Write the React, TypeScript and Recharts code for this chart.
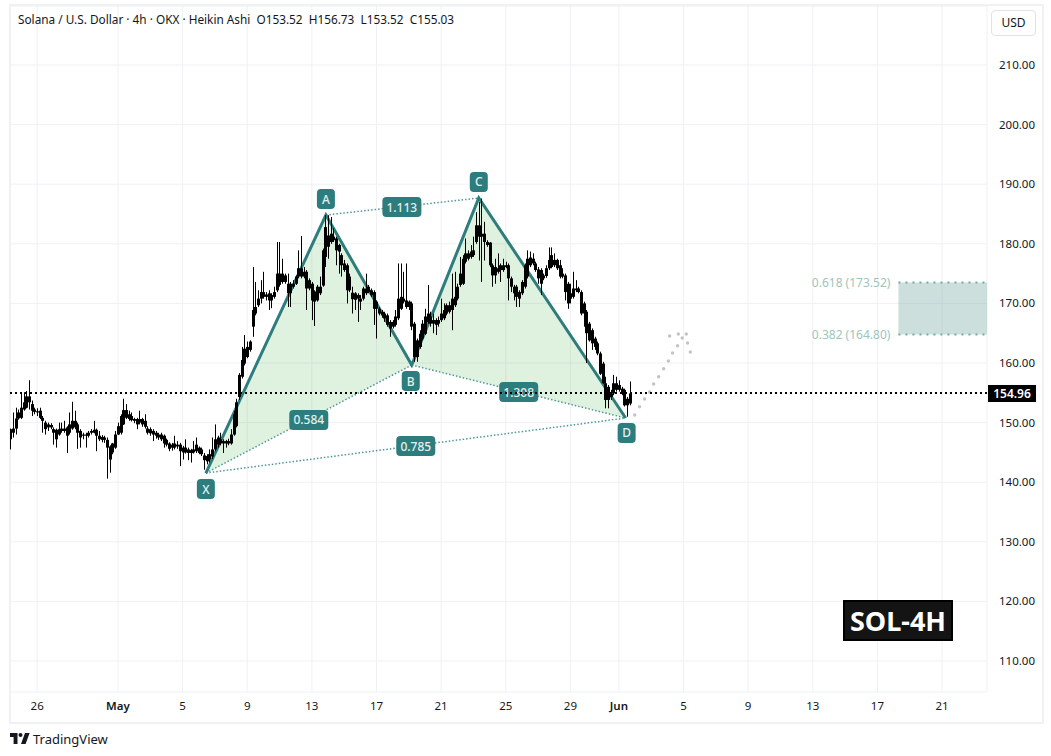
import React from "react";
import {
  Area,
  Bar,
  CartesianGrid,
  ComposedChart,
  Line,
  ReferenceArea,
  ReferenceDot,
  ReferenceLine,
  Scatter,
  XAxis,
  YAxis,
} from "recharts";

const FONT = '"Noto Sans", "Open Sans", sans-serif';
const TEAL = "#2e7d7e";
const GRID = "#eff1f5";

// 4h heikin ashi candles
const firstDay = -6.64;
const opens = [
  147.2, 148.3, 149.0, 150.7, 150.8, 152.2, 152.5, 154.4, 153.1, 152.2,
  151.9, 152.0, 150.8, 150.0, 149.7, 149.6, 148.9, 148.8, 148.0, 149.0, 148.6,
  149.2, 148.3, 149.0, 150.3, 149.7, 148.6, 148.0, 147.8, 147.8, 148.3,
  148.3, 148.8, 147.8, 147.6, 147.1, 147.1, 146.0, 145.0, 145.8, 148.0,
  148.3, 149.7, 152.1, 150.6, 151.1, 150.6, 150.6, 150.0, 150.6, 150.3,
  149.0, 148.9, 148.6, 148.3, 148.0, 148.0, 147.8, 147.1, 146.5, 145.8,
  145.8, 146.3, 146.3, 145.8, 145.0, 145.5, 145.4, 145.0, 145.2, 145.8,
  145.5, 144.5, 144.4, 143.8, 144.3, 145.5, 146.3, 147.2, 146.9, 146.5,
  146.9, 146.5, 148.0, 149.4, 154.3, 157.7, 159.9, 161.0, 162.2, 166.1,
  168.3, 169.7, 170.8, 171.9, 171.5, 171.7, 170.5, 171.1, 172.2, 175.0, 173.6,
  174.7, 173.3, 171.7, 172.8, 173.3, 174.5, 175.9, 175.3, 175.3, 172.5,
  173.3, 170.3, 170.5, 171.7, 173.0, 177.8, 179.5, 181.7, 180.6, 180.9,
  179.8, 178.1, 176.7, 176.4, 172.2, 171.8, 170.6, 171.4, 170.8, 170.8,
  172.5, 171.9, 172.2, 171.9, 170.3, 169.1, 168.6, 168.3, 168.0, 166.9,
  166.1, 166.4, 167.5, 169.1, 170.8, 170.5, 169.4, 170.0, 166.6, 161.0,
  162.7, 164.1, 164.9, 166.9, 167.8, 167.2, 166.4, 167.2, 167.2, 167.5,
  168.3, 169.7, 168.9, 169.7, 170.8, 173.1, 173.3, 177.0, 177.5, 177.8,
  178.1, 180.3, 181.2, 181.7, 181.7, 180.3, 180.2, 176.4, 174.7, 175.3,
  175.6, 176.4, 176.1, 176.4, 174.2, 172.8, 171.1, 171.9, 171.7, 172.8,
  174.5, 176.4, 177.5, 176.7, 175.7, 173.3, 174.7, 174.6, 175.9, 176.1,
  177.3, 177.3, 176.4, 175.0, 174.7, 173.3, 170.8, 171.1, 172.2, 172.5,
  171.9, 170.0, 168.6, 166.6, 163.3, 164.1, 163.3, 161.6, 159.9, 156.6,
  156.0, 154.9, 154.9, 156.6, 155.5, 155.7, 155.5, 154.0, 153.2,
];
const closes = [
  148.9, 149.0, 150.7, 151.7, 152.5, 153.4, 154.4, 153.4, 152.0, 151.8,
  151.7, 150.8, 150.3, 148.9, 149.2, 149.2, 148.3, 147.2, 148.9, 148.6, 149.0,
  147.8, 149.7, 150.3, 149.2, 148.3, 147.5, 147.8, 148.0, 148.3, 148.6,
  148.8, 147.8, 147.2, 147.1, 147.5, 145.8, 143.8, 146.5, 148.0, 149.4,
  151.1, 152.1, 150.8, 151.4, 150.4, 150.3, 149.7, 150.6, 149.7, 149.3,
  148.3, 148.2, 148.0, 147.8, 147.5, 147.2, 146.5, 146.3, 145.6, 146.3,
  146.5, 146.0, 145.2, 145.0, 145.8, 144.9, 144.9, 145.5, 146.3, 144.9,
  144.7, 143.7, 143.5, 144.7, 145.5, 147.2, 147.5, 146.5, 146.5, 146.9,
  146.5, 148.0, 151.4, 153.4, 158.0, 160.5, 162.4, 162.7, 163.6, 168.9,
  169.4, 170.8, 171.9, 171.1, 171.1, 170.5, 171.4, 171.9, 175.0, 173.1, 175.0,
  173.6, 171.7, 173.3, 173.3, 174.5, 175.9, 174.5, 174.5, 172.5, 173.9,
  170.5, 172.0, 172.8, 172.8, 178.9, 182.8, 181.4, 180.3, 181.2, 178.9,
  178.7, 176.4, 175.6, 172.2, 174.5, 170.7, 171.7, 170.8, 170.3, 172.5,
  171.7, 172.8, 171.4, 169.1, 169.1, 168.3, 168.0, 167.5, 166.4, 165.8,
  166.9, 167.8, 170.8, 171.1, 170.3, 169.4, 170.3, 166.1, 161.0, 163.8,
  164.9, 166.6, 167.8, 168.3, 166.6, 166.6, 167.2, 166.6, 168.3, 168.9,
  169.7, 168.6, 170.8, 171.1, 172.8, 175.0, 177.5, 178.4, 178.4, 178.7,
  178.9, 183.1, 183.1, 181.2, 180.3, 179.8, 176.4, 174.7, 176.1, 175.9,
  176.4, 175.6, 176.4, 174.2, 172.8, 171.7, 172.8, 170.8, 173.6, 176.4,
  177.5, 177.7, 176.7, 175.6, 174.2, 175.6, 174.2, 175.9, 177.3, 178.1,
  176.4, 175.9, 174.5, 174.5, 171.9, 170.0, 171.7, 172.5, 172.5, 171.9,
  168.3, 168.3, 165.0, 163.8, 165.5, 162.7, 161.6, 158.2, 156.6, 153.8,
  153.8, 154.3, 156.6, 155.5, 156.3, 154.9, 152.9, 152.9, 154.9,
];
const highs = [
  149.0, 151.7, 152.5, 152.2, 154.8, 155.1, 155.3, 157.1, 153.7, 152.5,
  152.4, 152.5, 151.1, 150.3, 150.0, 149.9, 149.2, 149.0, 150.0, 150.0, 150.3,
  149.4, 151.7, 153.5, 152.0, 150.0, 148.9, 148.3, 148.3, 148.6, 148.9,
  150.3, 149.0, 148.6, 147.9, 147.8, 147.5, 146.2, 146.6, 148.6, 150.0,
  151.4, 154.0, 153.1, 152.0, 151.7, 150.8, 150.8, 152.0, 150.8, 151.4,
  149.4, 149.2, 148.9, 148.6, 148.3, 148.3, 148.0, 147.3, 146.7, 146.6,
  147.8, 146.9, 146.6, 146.1, 147.2, 145.8, 145.6, 146.9, 147.5, 146.0,
  145.8, 144.9, 144.7, 145.5, 147.5, 149.7, 147.8, 148.3, 147.2, 147.1,
  147.3, 148.9, 152.0, 154.0, 158.3, 162.7, 164.7, 163.6, 163.8, 176.1,
  173.6, 172.2, 173.9, 175.3, 171.9, 172.2, 171.7, 172.8, 180.3, 180.3, 177.5,
  175.0, 175.0, 173.6, 173.9, 174.7, 178.9, 181.3, 176.1, 175.6, 174.2,
  173.6, 172.2, 173.1, 174.5, 179.2, 184.8, 184.8, 184.5, 182.6, 181.2,
  180.0, 178.4, 177.3, 176.7, 175.0, 172.8, 171.9, 171.7, 171.4, 172.8,
  175.0, 173.1, 172.5, 172.2, 170.5, 169.4, 168.9, 168.6, 168.3, 167.2,
  167.2, 168.9, 176.7, 176.7, 175.3, 176.7, 170.5, 170.3, 166.9, 164.1,
  165.5, 167.2, 169.1, 173.1, 168.6, 168.3, 167.5, 167.8, 170.8, 170.0,
  170.0, 170.3, 175.0, 175.3, 173.3, 177.8, 178.1, 180.9, 178.9, 179.8,
  181.2, 185.3, 187.0, 187.6, 183.7, 180.6, 180.3, 176.7, 177.5, 178.4,
  176.7, 177.5, 177.0, 176.7, 174.5, 173.1, 173.1, 172.2, 173.9, 176.7,
  178.9, 178.7, 178.4, 177.0, 176.1, 175.9, 175.0, 176.4, 179.4, 179.4,
  178.4, 177.5, 177.3, 175.9, 175.0, 173.6, 173.3, 175.3, 173.9, 172.8,
  172.2, 170.3, 168.9, 166.9, 165.8, 164.4, 163.6, 161.9, 160.2, 157.7,
  156.3, 155.5, 158.0, 157.7, 157.1, 156.0, 155.7, 154.3, 156.9,
];
const lows = [
  145.5, 147.5, 148.0, 150.5, 150.6, 152.0, 152.4, 152.2, 151.1, 151.4,
  151.1, 150.6, 148.3, 148.0, 148.6, 148.9, 146.3, 145.8, 147.8, 148.3, 148.3,
  144.9, 148.0, 148.8, 148.9, 145.6, 145.8, 147.2, 145.8, 147.5, 148.0,
  148.2, 145.2, 146.9, 146.7, 146.6, 140.6, 141.6, 144.7, 145.6, 147.9,
  148.0, 149.6, 150.6, 150.3, 150.2, 149.9, 148.9, 149.7, 149.3, 149.0,
  148.0, 147.8, 146.9, 147.3, 147.1, 146.9, 145.8, 146.0, 145.2, 145.3,
  145.5, 145.6, 142.7, 143.8, 144.8, 143.7, 143.3, 144.8, 144.9, 144.7,
  144.4, 142.1, 143.0, 143.3, 143.9, 145.2, 145.8, 146.2, 144.9, 145.8,
  146.2, 146.3, 147.8, 149.2, 153.8, 157.4, 159.6, 160.8, 161.9, 164.4,
  168.0, 169.4, 170.0, 170.8, 170.5, 168.9, 169.2, 170.8, 171.9, 172.8, 173.3,
  173.3, 169.4, 169.4, 172.5, 173.1, 174.2, 174.2, 174.2, 168.9, 172.2,
  167.2, 166.2, 170.3, 171.4, 172.8, 176.1, 177.5, 180.0, 180.3, 176.4,
  175.0, 174.5, 175.3, 170.0, 171.9, 168.3, 168.9, 166.9, 168.9, 170.5,
  171.4, 171.7, 171.1, 166.4, 164.1, 168.0, 167.6, 166.9, 166.1, 164.4,
  165.8, 166.1, 167.2, 168.9, 170.0, 169.1, 168.9, 165.5, 160.2, 160.2,
  162.4, 163.8, 164.7, 166.6, 166.1, 165.0, 164.7, 166.1, 166.9, 167.2,
  168.0, 168.3, 165.5, 169.4, 170.5, 172.8, 173.1, 176.7, 177.2, 177.5,
  177.8, 180.0, 177.2, 173.6, 177.2, 179.5, 176.1, 172.8, 173.3, 175.0,
  173.6, 175.3, 175.9, 170.5, 171.9, 170.5, 169.4, 169.4, 171.4, 172.5,
  174.2, 176.1, 176.4, 175.3, 173.3, 171.4, 173.9, 174.3, 175.6, 175.9,
  176.1, 175.6, 174.2, 174.2, 170.5, 169.1, 170.0, 170.8, 171.9, 171.7,
  168.0, 166.1, 160.0, 163.6, 162.2, 162.2, 161.3, 158.0, 156.5, 152.4,
  152.4, 153.8, 154.6, 155.2, 155.2, 154.6, 152.7, 151.0, 152.9,
];

const candles = closes.map((c, i) => ({
  day: firstDay + i / 6,
  open: opens[i],
  close: c,
  high: highs[i],
  low: lows[i],
  wick: [lows[i], highs[i]],
}));

// pattern pivots (days from May 1, price)
const pX = { day: 5.44, y: 141.54 };
const pA = { day: 12.87, y: 184.83 };
const pB = { day: 18.18, y: 159.66 };
const pC = { day: 22.33, y: 187.68 };
const pD = { day: 31.42, y: 150.77 };

const chordAt = (a: any, b: any, day: number) =>
  a.y + ((b.y - a.y) * (day - a.day)) / (b.day - a.day);

const wing = (a: any, b: any, c: any) => [
  { day: a.day, band: [a.y, a.y] },
  { day: b.day, band: [chordAt(a, c, b.day), b.y] },
  { day: c.day, band: [c.y, c.y] },
];

const forecastDays = [
  31.98, 32.28, 32.59, 32.9, 33.15, 33.46, 33.77, 34.06, 34.32, 34.63, 34.92,
  35.17, 34.68, 34.14, 35.25, 35.42,
];
const forecastPrices = [
  151.28, 152.67, 153.96, 155.13, 156.48, 157.7, 159.04, 160.34, 161.68, 162.9,
  164.19, 164.87, 164.87, 164.53, 163.36, 161.85,
];
const forecast = forecastDays.map((day, i) => ({ day, y: forecastPrices[i] }));

const tag = ["X", "A", "B", "C", "D", "1.113", "0.584", "1.308", "0.785"];
const tagDays = [5.44, 12.87, 18.12, 22.33, 31.48, 17.57, 11.81, 24.8, 18.43];
const tagPrices = [138.86, 187.5, 156.98, 190.37, 148.26, 186.17, 150.44, 155.13, 146.07];

const priceTicks = [110, 120, 130, 140, 150, 160, 170, 180, 190, 200, 210];
const dayTicks = [-5, 0, 4, 8, 12, 16, 20, 24, 28, 31, 35, 39, 43, 47, 51];
const dayLabels = ["26", "May", "5", "9", "13", "17", "21", "25", "29", "Jun", "5", "9", "13", "17", "21"];

const lastPrice = 154.96;
const fib618 = 173.52;
const fib382 = 164.8;
const zoneStart = 48.3;
const zoneEnd = 53.78;

// one candle: the bar spans low..high, the body is placed from the same scale
function Candle({ x, y, width, height, payload }: any) {
  const perUnit = height / (payload.high - payload.low);
  const top = y + (payload.high - Math.max(payload.open, payload.close)) * perUnit;
  const bodyH = Math.max(Math.abs(payload.open - payload.close) * perUnit, 1);
  const left = Math.floor(x + width / 2);
  return (
    <g>
      <rect x={left} y={y} width={1} height={height} fill="#000" />
      <rect x={left - 1} y={top} width={3} height={bodyH} fill="#000" />
    </g>
  );
}

function TagShape({ cx, cy, text }: any) {
  const w = text.length > 1 ? 39 : 18;
  return (
    <g>
      <rect x={cx - w / 2} y={cy - 10} width={w} height={20} rx={4} fill={TEAL} />
      <text x={cx} y={cy + 4.5} textAnchor="middle" fontSize={12} fontWeight={500} fill="#e3f1ef" fontFamily={FONT}>
        {text}
      </text>
    </g>
  );
}

function FibText({ cx, cy, text }: any) {
  return (
    <text x={cx} y={cy + 4.5} textAnchor="end" fontSize={12} fill="#9cc6bb" fontFamily={FONT}>
      {text}
    </text>
  );
}

function DayTick({ x, y, payload }: any) {
  const label = dayLabels[dayTicks.indexOf(payload.value)];
  const strong = label === "May" || label === "Jun";
  return (
    <text x={x} y={y + 10} textAnchor="middle" fontSize={11.5} fontWeight={strong ? 600 : 400} fill="#131722" fontFamily={FONT}>
      {label}
    </text>
  );
}

const dotted = { stroke: "#4f9797", strokeWidth: 1.5, strokeDasharray: "1.5 2", dot: false, isAnimationActive: false, zIndex: 240 };

export default function App() {
  return (
    <div style={{ position: "absolute", left: 0, top: 0, width: 1051, height: 756, background: "#fff", fontFamily: FONT, overflow: "hidden" }}>
      <div style={{ position: "absolute", left: 9, top: 4, width: 1031, height: 716, border: `2px solid ${GRID}` }} />
      <ComposedChart
        width={1051}
        height={756}
        data={candles}
        margin={{ top: 6, right: 10, bottom: 35, left: 10 }}
        style={{ position: "absolute", left: 0, top: 0 }}
      >
        <CartesianGrid stroke={GRID} strokeWidth={1} />
        <XAxis
          dataKey="day"
          type="number"
          domain={[-6.68, zoneEnd]}
          allowDataOverflow
          ticks={dayTicks}
          interval={0}
          height={29}
          axisLine={false}
          tickLine={false}
          tick={<DayTick />}
        />
        <YAxis
          orientation="right"
          type="number"
          domain={[104.8, 219.9]}
          allowDataOverflow
          ticks={priceTicks}
          interval={0}
          width={54}
          axisLine={false}
          tickLine={false}
          tickMargin={6}
          tick={{ fontSize: 11.5, fill: "#131722", fontFamily: FONT }}
          tickFormatter={(v: number) => v.toFixed(2)}
        />

        <Area data={wing(pX, pA, pB)} dataKey="band" type="linear" stroke="none" fill="#4caf50" fillOpacity={0.18} isAnimationActive={false} />
        <Area data={wing(pB, pC, pD)} dataKey="band" type="linear" stroke="none" fill="#4caf50" fillOpacity={0.18} isAnimationActive={false} />
        <ReferenceArea x1={zoneStart} x2={zoneEnd} y1={fib382} y2={fib618} fill="#7fb0a9" fillOpacity={0.4} stroke="none" />

        <Line data={[pX, pB]} dataKey="y" {...dotted} />
        <Line data={[pB, pD]} dataKey="y" {...dotted} />
        <Line data={[pA, pC]} dataKey="y" {...dotted} />
        <Line data={[pX, pD]} dataKey="y" {...dotted} />
        <Line data={[pX, pA, pB, pC, pD]} dataKey="y" stroke={TEAL} strokeWidth={3} dot={false} isAnimationActive={false} zIndex={250} />

        <Bar dataKey="wick" barSize={3} fill="#000" shape={<Candle />} isAnimationActive={false} zIndex={300} />

        <Line data={[{ day: zoneStart, y: fib618 }, { day: zoneEnd, y: fib618 }]} dataKey="y" {...dotted} stroke="#6fae9f" strokeWidth={2} strokeDasharray="2 5" />
        <Line data={[{ day: zoneStart, y: fib382 }, { day: zoneEnd, y: fib382 }]} dataKey="y" {...dotted} stroke="#6fae9f" strokeWidth={2} strokeDasharray="2 5" />
        <Scatter data={forecast} dataKey="y" fill="#c4c4c4" shape={(p: any) => <circle cx={p.cx} cy={p.cy} r={1.7} fill="#c4c4c4" />} isAnimationActive={false} />

        {tag.map((t, i) => (
          <ReferenceDot key={t} x={tagDays[i]} y={tagPrices[i]} r={1} ifOverflow="visible" zIndex={2500} shape={(p: any) => <TagShape {...p} text={t} />} />
        ))}
        <ReferenceDot x={47.8} y={fib618} r={1} shape={(p: any) => <FibText {...p} text="0.618 (173.52)" />} />
        <ReferenceDot x={47.8} y={fib382} r={1} shape={(p: any) => <FibText {...p} text="0.382 (164.80)" />} />
        <ReferenceLine y={lastPrice} stroke="#000" strokeWidth={2} strokeDasharray="2 3" zIndex={3000} />
      </ComposedChart>

      <div style={{ position: "absolute", left: 18, top: 11, fontSize: 11.8, color: "#131722", whiteSpace: "pre", lineHeight: "17px" }}>
        {"Solana / U.S. Dollar · 4h · OKX · Heikin Ashi  O153.52  H156.73  L153.52  C155.03"}
      </div>
      <div style={{ position: "absolute", left: 991, top: 10, width: 43, height: 24, border: "1px solid #e0e3eb", borderRadius: 4, fontSize: 12, lineHeight: "24px", textAlign: "center", color: "#131722", background: "#fff" }}>
        USD
      </div>
      <div style={{ position: "absolute", left: 988, top: 385, width: 48, height: 17, background: "#000", color: "#fff", fontSize: 12, fontWeight: 600, lineHeight: "17px", textAlign: "center" }}>
        154.96
      </div>
      <div style={{ position: "absolute", left: 843, top: 600, width: 106, height: 37, border: "2px solid #000", background: "#141414", color: "#fff", fontSize: 27, fontWeight: 700, lineHeight: "37px", textAlign: "center" }}>
        SOL-4H
      </div>
      <svg style={{ position: "absolute", left: 10, top: 733 }} width={20} height={12} viewBox="0 0 20 12">
        <path d="M0 0h7.5v11H3.6V4H0z" fill="#131722" />
        <circle cx={10.5} cy={2} r={2} fill="#131722" />
        <path d="M15 0h4.6l-4 11H11z" fill="#131722" />
      </svg>
      <div style={{ position: "absolute", left: 33, top: 730, fontSize: 13, color: "#131722", lineHeight: "18px" }}>TradingView</div>
    </div>
  );
}
